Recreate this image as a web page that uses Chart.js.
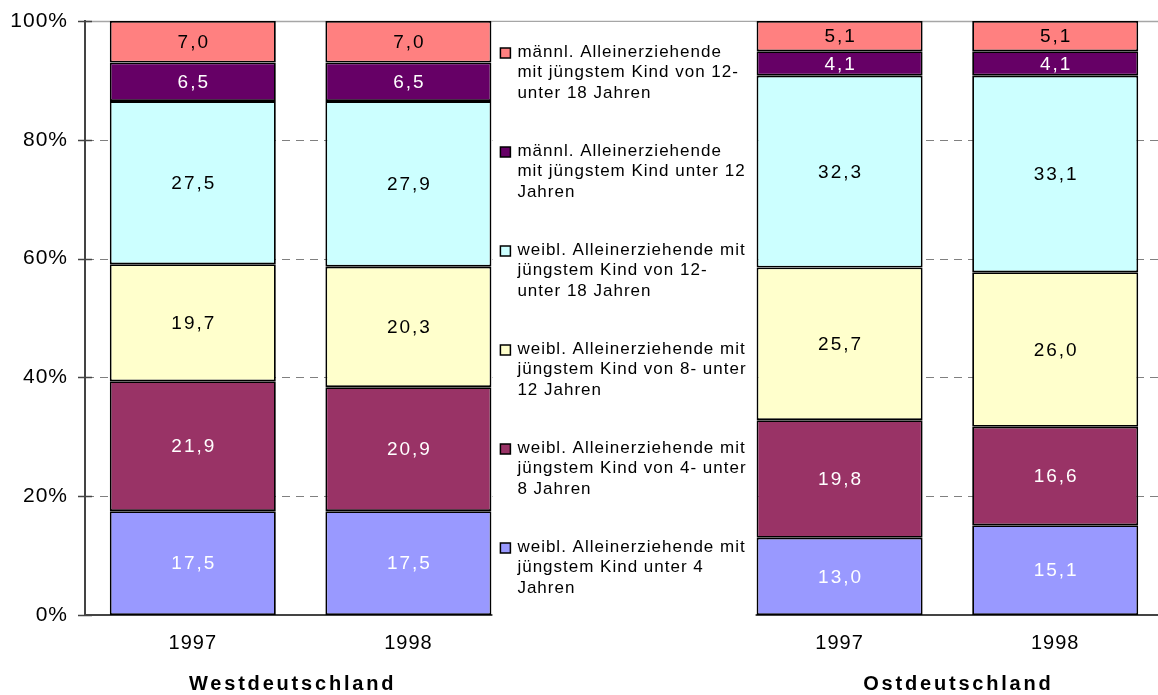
<!DOCTYPE html>
<html>
<head>
<meta charset="utf-8">
<script src="https://cdn.jsdelivr.net/npm/chart.js@4"></script>
<style>
    html, body { margin: 0; padding: 0; background: #fff; overflow: hidden; }
    #wrap { width: 1158px; height: 695px; overflow: hidden; }
</style>
</head>
<body>
<div id="wrap"><canvas id="chart" width="1163" height="695"></canvas></div>
<script>
// ============================================================
// DATEN
// ============================================================
const categories = ['1997', '1998', '', '1997', '1998'];
const regions = ['Westdeutschland', 'Ostdeutschland'];
const yTicks = [0, 20, 40, 60, 80, 100];

// von unten nach oben gestapelt
const weiblUnter4   = [17.5, 17.5, null, 13.0, 15.1];
const weibl4bis8    = [21.9, 20.9, null, 19.8, 16.6];
const weibl8bis12   = [19.7, 20.3, null, 25.7, 26.0];
const weibl12bis18  = [27.5, 27.9, null, 32.3, 33.1];
const maennlUnter12 = [6.5, 6.5, null, 4.1, 4.1];
const maennl12bis18 = [7.0, 7.0, null, 5.1, 5.1];

const seriesLabels = [
    ['weibl. Alleinerziehende mit', 'jüngstem Kind unter 4', 'Jahren'],
    ['weibl. Alleinerziehende mit', 'jüngstem Kind von 4- unter', '8 Jahren'],
    ['weibl. Alleinerziehende mit', 'jüngstem Kind von 8- unter', '12 Jahren'],
    ['weibl. Alleinerziehende mit', 'jüngstem Kind von 12-', 'unter 18 Jahren'],
    ['männl. Alleinerziehende', 'mit jüngstem Kind unter 12', 'Jahren'],
    ['männl. Alleinerziehende', 'mit jüngstem Kind von 12-', 'unter 18 Jahren']
];
const seriesColors = ['#9999FF', '#993366', '#FFFFCC', '#CCFFFF', '#660066', '#FF8080'];
const labelColors = ['#ffffff', '#ffffff', '#000000', '#000000', '#ffffff', '#000000'];

const series = [weiblUnter4, weibl4bis8, weibl8bis12, weibl12bis18, maennlUnter12, maennl12bis18];

// ============================================================
// 100%-STAPEL
// ============================================================
const totals = categories.map(function(c, i) {
    return series.reduce(function(s, arr) { return s + (arr[i] || 0); }, 0);
});
function toShare(arr) {
    return arr.map(function(v, i) { return v == null ? null : v / totals[i] * 100; });
}

const FONT = '"Liberation Sans", Arial, sans-serif';
const fmt = function(v) { return v.toFixed(1).replace('.', ','); };

const decoPlugin = {
    id: 'deco',
    afterInit(chart) { chart.ctx.letterSpacing = '1px'; },
    beforeUpdate(chart) { chart.ctx.letterSpacing = '1px'; },
    beforeDraw(chart) { chart.ctx.letterSpacing = '1px'; },

    // Gitterlinien und Teilstriche
    beforeDatasetsDraw(chart) {
        const ctx = chart.ctx, a = chart.chartArea, y = chart.scales.y;
        ctx.save();
        yTicks.forEach(function(v) {
            const py = Math.round(y.getPixelForValue(v)) + 0.5;
            if (v > 0) {
                ctx.beginPath();
                ctx.lineWidth = v === 100 ? 1.5 : 1;
                ctx.strokeStyle = v === 100 ? '#a6a6a6' : '#808080';
                ctx.setLineDash(v === 100 ? [] : [8, 6]);
                ctx.moveTo(a.left + 1, py);
                ctx.lineTo(a.right, py);
                ctx.stroke();
            }
            ctx.beginPath();
            ctx.setLineDash([]);
            ctx.lineWidth = 1.5;
            ctx.strokeStyle = '#444';
            ctx.moveTo(a.left - 7, py);
            ctx.lineTo(a.left + 7, py);
            ctx.stroke();
        });
        ctx.restore();
    },

    // Werte in den Balken
    afterDatasetsDraw(chart) {
        const ctx = chart.ctx;
        ctx.save();
        ctx.font = '19px ' + FONT;
        ctx.letterSpacing = '2px';
        ctx.textAlign = 'center';
        ctx.textBaseline = 'middle';
        chart.data.datasets.forEach(function(ds, k) {
            chart.getDatasetMeta(k).data.forEach(function(bar, i) {
                const v = ds.raw[i];
                if (v == null) return;
                ctx.fillStyle = labelColors[k];
                ctx.fillText(fmt(v), bar.x + 1, (bar.y + bar.base) / 2 + 1);
            });
        });
        ctx.restore();
    },

    // Legende in der Lücke, Regionsbeschriftung
    afterDraw(chart) {
        const ctx = chart.ctx, a = chart.chartArea, x = chart.scales.x;
        const bars = chart.getDatasetMeta(0).data;
        const left = bars[1].x + bars[1].width / 2 + 1;
        const right = bars[3].x - bars[3].width / 2 - 1;
        ctx.save();
        ctx.fillStyle = '#ffffff';
        ctx.fillRect(left, a.top + 1, right - left, a.bottom - a.top + 3);
        ctx.beginPath();
        ctx.rect(left, a.top, right - left, a.bottom - a.top + 3);
        ctx.clip();
        ctx.font = '17px ' + FONT;
        ctx.letterSpacing = '1px';
        ctx.textAlign = 'left';
        ctx.textBaseline = 'middle';
        const step = (a.bottom - a.top) / 6;
        for (let n = 0; n < 6; n++) {
            const k = 5 - n;
            const y0 = a.top + 31 + n * step;
            ctx.fillStyle = seriesColors[k];
            ctx.fillRect(left + 8, y0 - 4, 10, 10);
            ctx.strokeStyle = '#000';
            ctx.lineWidth = 1.5;
            ctx.strokeRect(left + 8, y0 - 4, 10, 10);
            ctx.fillStyle = '#000';
            seriesLabels[k].forEach(function(line, j) {
                ctx.fillText(line, left + 25, y0 + j * 20.7);
            });
        }
        ctx.restore();

        ctx.save();
        ctx.font = 'bold 20px ' + FONT;
        ctx.letterSpacing = '2.8px';
        ctx.textAlign = 'center';
        ctx.textBaseline = 'middle';
        ctx.fillStyle = '#000';
        const westX = (x.getPixelForValue(0) + x.getPixelForValue(1)) / 2 - 8;
        const ostX = (x.getPixelForValue(3) + x.getPixelForValue(4)) / 2 + 11;
        ctx.fillText(regions[0], westX, 684);
        ctx.fillText(regions[1], ostX, 684);
        ctx.restore();
    }
};

new Chart(document.getElementById('chart'), {
    type: 'bar',
    data: {
        labels: categories,
        datasets: series.map(function(arr, k) {
            return {
                label: seriesLabels[k].join(' '),
                data: toShare(arr),
                raw: arr,
                backgroundColor: seriesColors[k],
                borderColor: '#000000',
                borderWidth: 1.8,
                borderSkipped: false,
                barPercentage: 0.77,
                categoryPercentage: 1
            };
        })
    },
    options: {
        responsive: false,
        animation: false,
        devicePixelRatio: 1,
        layout: { padding: { top: 21, left: 0, right: 0, bottom: 0 } },
        plugins: {
            legend: { display: false },
            tooltip: { enabled: false }
        },
        scales: {
            x: {
                stacked: true,
                grid: { display: false, drawTicks: false },
                border: { display: true, color: '#444', width: 2 },
                ticks: { color: '#000', font: { family: FONT, size: 20 }, padding: 16, maxRotation: 0 },
                afterFit: function(scale) {
                    scale.height = 80;
                    scale.paddingLeft = 0;
                    scale.paddingRight = 0;
                }
            },
            y: {
                stacked: true,
                min: 0,
                max: 100,
                grid: { display: false, drawTicks: false },
                border: { display: true, color: '#444', width: 2 },
                ticks: {
                    stepSize: 20,
                    color: '#000',
                    font: { family: FONT, size: 21 },
                    padding: 17,
                    callback: function(v) { return v + '%'; }
                },
                afterFit: function(scale) {
                    scale.width = 85;
                    scale.paddingTop = 0;
                    scale.paddingBottom = 0;
                }
            }
        }
    },
    plugins: [decoPlugin]
});
</script>
</body>
</html>
